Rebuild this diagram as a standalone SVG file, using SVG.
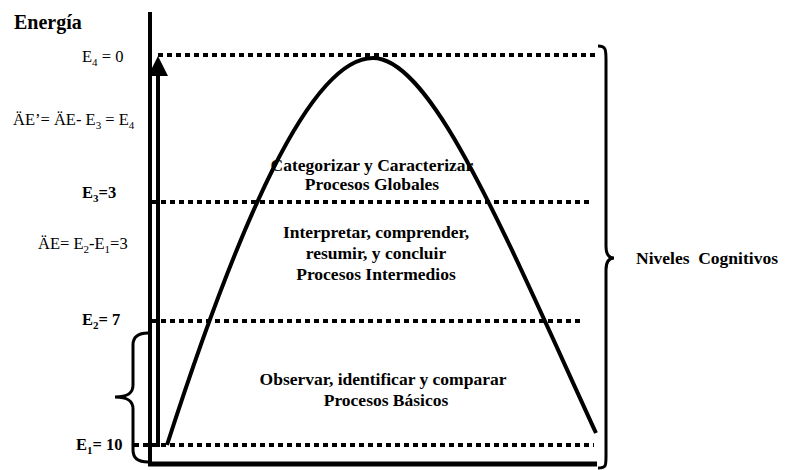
<svg xmlns="http://www.w3.org/2000/svg" width="801" height="470" viewBox="0 0 801 470">
<style>
text{font-family:"Liberation Serif","Times New Roman",serif;fill:#000}
.b{font-weight:bold;font-size:16.5px}
.c{font-weight:bold;font-size:17.5px}
.r{font-size:16.5px}
.sub{font-size:11px}
.dot{stroke:#000;stroke-width:4;stroke-dasharray:5 4;fill:none}
.ln{stroke:#000;fill:none}
</style>
<rect width="801" height="470" fill="#fff"/>
<g id="connectors">
<line class="ln" x1="150" y1="12" x2="150" y2="466" stroke-width="4"/>
<line class="ln" x1="148" y1="464" x2="597" y2="464" stroke-width="5"/>
<line class="dot" x1="158" y1="55" x2="598" y2="55"/>
<line class="dot" x1="152" y1="202" x2="593" y2="202"/>
<line class="dot" x1="152" y1="321" x2="582" y2="321"/>
<line class="dot" x1="134" y1="445" x2="594" y2="445"/>
<line class="ln" x1="158" y1="447" x2="158" y2="74" stroke-width="4"/>
<polygon points="158,56 148,76 168,76" fill="#000"/>
<path class="ln" stroke-width="4" d="M167,445 C238,225 310,58 373,58 C432,58 505,235 596,433"/>
<path class="ln" stroke-width="3" d="M598,46 C606,46 606,50 606,60 L606,246 C606,254 609,258 614,258 C609,258 606,262 606,270 L606,456 C606,466 606,468 598,468"/>
<path class="ln" stroke-width="3" d="M148,333 C138,333 133,337 133,345 L133,385 C133,393 128,397 115,397 C128,397 133,401 133,409 L133,450 C133,458 138,462 148,462"/>
</g>
<g id="labels-left">
<text x="14" y="29" class="b" style="font-size:20px">Energía</text>
<text x="82" y="62" class="r">E<tspan class="sub" dy="4">4</tspan><tspan dy="-4"> = 0</tspan></text>
<text x="13" y="125" class="r">ÄE’= ÄE- E<tspan class="sub" dy="4">3</tspan><tspan dy="-4"> = E</tspan><tspan class="sub" dy="4">4</tspan></text>
<text x="82" y="198" class="b">E<tspan class="sub" dy="4">3</tspan><tspan dy="-4">=3</tspan></text>
<text x="38" y="249" class="r">ÄE= E<tspan class="sub" dy="4">2</tspan><tspan dy="-4">-E</tspan><tspan class="sub" dy="4">1</tspan><tspan dy="-4">=3</tspan></text>
<text x="82" y="325" class="b">E<tspan class="sub" dy="4">2</tspan><tspan dy="-4">= 7</tspan></text>
<text x="76" y="450" class="b">E<tspan class="sub" dy="4">1</tspan><tspan dy="-4">= 10</tspan></text>
</g>
<g id="node-globales">
<text x="372" y="171" class="c" text-anchor="middle">Categorizar y Caracterizar</text>
<text x="372" y="190" class="c" text-anchor="middle">Procesos Globales</text>
</g>
<g id="node-intermedios">
<text x="376" y="238" class="c" text-anchor="middle">Interpretar, comprender,</text>
<text x="376" y="259" class="c" text-anchor="middle">resumir, y concluir</text>
<text x="376" y="280" class="c" text-anchor="middle">Procesos Intermedios</text>
</g>
<g id="node-basicos">
<text x="383" y="385" class="c" text-anchor="middle">Observar, identificar y comparar</text>
<text x="386" y="406" class="c" text-anchor="middle">Procesos Básicos</text>
</g>
<g id="node-niveles">
<text x="636" y="264" class="c" style="white-space:pre">Niveles  Cognitivos</text>
</g>
</svg>
